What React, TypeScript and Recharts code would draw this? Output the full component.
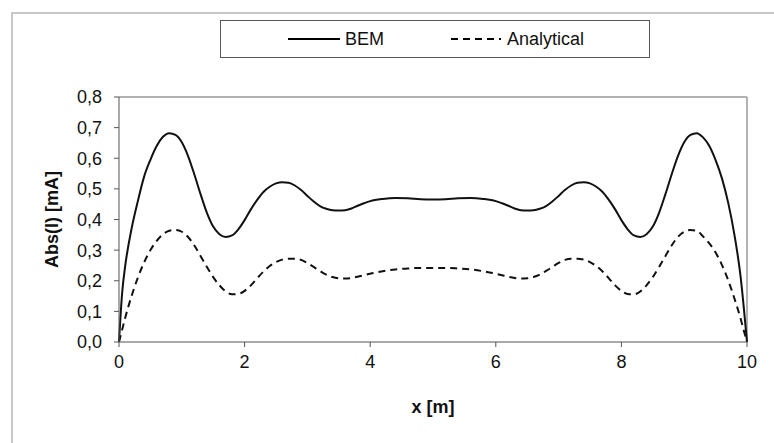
import { LineChart, Line, XAxis, YAxis, ReferenceLine, Legend } from "recharts";

// position along the conductor [m]
const xs = [
  0, 0.05, 0.1, 0.2, 0.3, 0.4, 0.5, 0.6, 0.7, 0.8, 0.9, 1.0, 1.1, 1.2, 1.3, 1.4, 1.5, 1.6, 1.7, 1.8, 1.9, 2.0,
  2.1, 2.2, 2.3, 2.4, 2.5, 2.6, 2.7, 2.8, 2.9, 3.0, 3.1, 3.2, 3.3, 3.4, 3.5, 3.6, 3.7, 3.8, 3.9, 4.0, 4.2, 4.4,
  4.6, 4.8, 5.0, 5.2, 5.4, 5.6, 5.8, 6.0, 6.1, 6.2, 6.3, 6.4, 6.5, 6.6, 6.7, 6.8, 6.9, 7.0, 7.1, 7.2, 7.3, 7.4,
  7.5, 7.6, 7.7, 7.8, 7.9, 8.0, 8.1, 8.2, 8.3, 8.4, 8.5, 8.6, 8.7, 8.8, 8.9, 9.0, 9.1, 9.2, 9.3, 9.4, 9.5, 9.6,
  9.7, 9.8, 9.9, 9.95, 10,
];

const bem = [
  0, 0.16, 0.25, 0.37, 0.46, 0.54, 0.595, 0.64, 0.67, 0.682, 0.676, 0.652, 0.607, 0.547, 0.482, 0.422, 0.377,
  0.352, 0.343, 0.348, 0.368, 0.398, 0.433, 0.464, 0.49, 0.507, 0.518, 0.522, 0.52, 0.511, 0.496, 0.477, 0.459,
  0.444, 0.435, 0.43, 0.429, 0.43, 0.436, 0.445, 0.453, 0.46, 0.467, 0.47, 0.469, 0.466, 0.465, 0.466, 0.469,
  0.47, 0.467, 0.46, 0.453, 0.445, 0.436, 0.43, 0.429, 0.43, 0.435, 0.444, 0.459, 0.477, 0.496, 0.511, 0.52,
  0.522, 0.518, 0.507, 0.49, 0.464, 0.433, 0.398, 0.368, 0.348, 0.343, 0.352, 0.377, 0.422, 0.482, 0.547, 0.607,
  0.652, 0.676, 0.682, 0.668, 0.64, 0.594, 0.535, 0.455, 0.35, 0.21, 0.11, 0,
];

const analytical = [
  0, 0.04, 0.08, 0.15, 0.21, 0.26, 0.3, 0.33, 0.352, 0.363, 0.366, 0.36, 0.343, 0.315, 0.28, 0.245, 0.212, 0.185,
  0.165, 0.156, 0.157, 0.167, 0.185, 0.208, 0.23, 0.248, 0.261, 0.269, 0.272, 0.272, 0.268, 0.258, 0.245, 0.232,
  0.22, 0.212, 0.208, 0.207, 0.209, 0.213, 0.218, 0.223, 0.231, 0.237, 0.24, 0.242, 0.242, 0.242, 0.24, 0.237,
  0.231, 0.223, 0.218, 0.213, 0.209, 0.207, 0.208, 0.212, 0.22, 0.232, 0.245, 0.258, 0.268, 0.272, 0.272, 0.269,
  0.261, 0.248, 0.23, 0.208, 0.185, 0.167, 0.157, 0.156, 0.165, 0.185, 0.212, 0.245, 0.28, 0.315, 0.343, 0.36,
  0.366, 0.363, 0.345, 0.322, 0.292, 0.252, 0.202, 0.142, 0.075, 0.037, 0,
];

const xTicks = [0, 2, 4, 6, 8, 10];
const yTicks = [0, 0.1, 0.2, 0.3, 0.4, 0.5, 0.6, 0.7, 0.8];

const data = xs.map((x, i) => ({ x, bem: bem[i], analytical: analytical[i] }));

const FONT = "'Liberation Sans', Arial, sans-serif";

function YTitle(props: any) {
  const vb = props.viewBox || {};
  const cx = 52;
  const cy = vb.y + vb.height / 2;
  return (
    <text
      x={cx}
      y={cy}
      transform={`rotate(-90 ${cx} ${cy})`}
      textAnchor="middle"
      dominantBaseline="central"
      fontFamily={FONT}
      fontSize={18}
      fontWeight="bold"
      fill="#111"
    >
      Abs(I) [mA]
    </text>
  );
}

function LegendBox() {
  return (
    <div
      style={{
        boxSizing: "border-box",
        width: 430,
        height: 38,
        border: "1px solid #555",
        background: "#fff",
        display: "flex",
        alignItems: "center",
        fontFamily: FONT,
        fontSize: 18,
        color: "#111",
      }}
    >
      <svg width={52} height={10} style={{ marginLeft: 67 }}>
        <line x1={0} y1={5} x2={52} y2={5} stroke="#000" strokeWidth={2} />
      </svg>
      <span style={{ marginLeft: 5 }}>BEM</span>
      <svg width={50} height={10} style={{ marginLeft: 67 }}>
        <line x1={0} y1={5} x2={50} y2={5} stroke="#000" strokeWidth={2} strokeDasharray="7 5" />
      </svg>
      <span style={{ marginLeft: 6 }}>Analytical</span>
    </div>
  );
}

export default function App() {
  const tick = { fontSize: 18, fill: "#111", fontFamily: FONT };
  return (
    <div style={{ position: "fixed", left: 0, top: 0, width: 774, height: 443, background: "#fff" }}>
      <div
        style={{
          position: "absolute",
          left: 11,
          top: 12,
          right: 0,
          bottom: 0,
          borderLeft: "2px solid #c8c8c8",
          borderTop: "2px solid #c8c8c8",
        }}
      />
      <LineChart
        width={774}
        height={443}
        data={data}
        margin={{ top: 59, right: 27, left: 59, bottom: 26 }}
        style={{ position: "absolute", left: 0, top: 0 }}
      >
        <XAxis
          dataKey="x"
          type="number"
          domain={[0, 10]}
          ticks={xTicks}
          tick={tick}
          tickSize={5}
          tickMargin={8}
          height={75}
          stroke="#555"
          label={{
            value: "x [m]",
            position: "insideBottom",
            offset: 4,
            style: { fontFamily: FONT, fontSize: 18, fontWeight: "bold", fill: "#111" },
          }}
        />
        <YAxis
          type="number"
          domain={[0, 0.8]}
          ticks={yTicks}
          tick={tick}
          tickSize={5}
          tickMargin={12}
          width={60}
          stroke="#555"
          tickFormatter={(v: number) => v.toFixed(1).replace(".", ",")}
          label={<YTitle />}
        />
        <ReferenceLine y={0.8} stroke="#999" strokeWidth={1.5} />
        <ReferenceLine x={10} stroke="#999" strokeWidth={1.5} />
        <Legend
          verticalAlign="top"
          content={() => <LegendBox />}
          wrapperStyle={{ top: 20, left: 220, width: 430, height: 38 }}
        />
        <Line
          dataKey="bem"
          name="BEM"
          type="monotone"
          stroke="#111"
          strokeWidth={2}
          dot={false}
          isAnimationActive={false}
        />
        <Line
          dataKey="analytical"
          name="Analytical"
          type="monotone"
          stroke="#111"
          strokeWidth={2}
          strokeDasharray="7 5"
          dot={false}
          isAnimationActive={false}
        />
      </LineChart>
    </div>
  );
}
